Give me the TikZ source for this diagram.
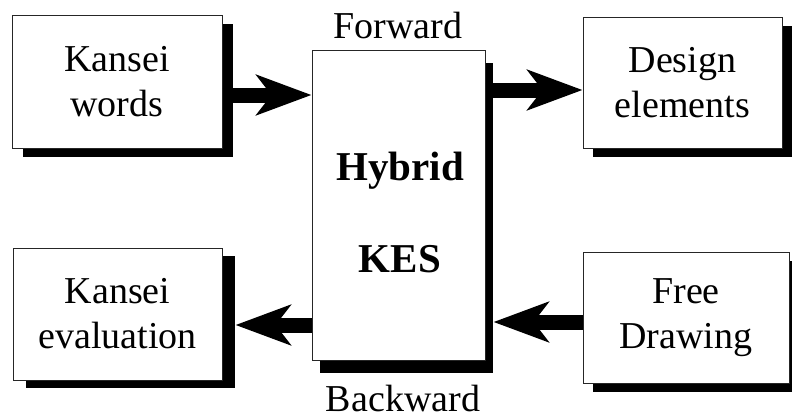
\documentclass[tikz,border=0pt]{standalone}
\usepackage{fontspec}
\setmainfont{Liberation Serif}
\usetikzlibrary{arrows.meta,shadows}
\begin{document}
\begin{tikzpicture}[x=1pt,y=-1pt,
  box/.style={draw=black!85, line width=1pt, fill=white, align=center,
    font=\fontsize{38}{45}\selectfont, inner sep=0pt},
  shad/.style={drop shadow={shadow xshift=#1, fill=black, opacity=1}},
  bigarrow/.style={line width=15pt, -{Stealth[length=55pt,width=40pt,inset=15pt]}},
  lbl/.style={font=\fontsize{38}{45}\selectfont, inner sep=0pt}]
\useasboundingbox (0,0) rectangle (792,418);
\node[box, minimum width=210pt, minimum height=133pt,
  drop shadow={shadow xshift=11pt, shadow yshift=-9pt, fill=black, opacity=1}]
  (kw) at (117,81.5) {Kansei\\words};
\node[box, minimum width=173pt, minimum height=310pt,
  drop shadow={shadow xshift=8pt, shadow yshift=-13pt, fill=black, opacity=1}]
  (hyb) at (398.5,205) {};
\node[font=\bfseries\fontsize{41}{92}\selectfont, align=center, inner sep=0pt]
  (hybtxt) at (400,212) {Hybrid\\KES};
\node[box, minimum width=199pt, minimum height=131pt,
  drop shadow={shadow xshift=10pt, shadow yshift=-9pt, fill=black, opacity=1}]
  (de) at (682.5,82.5) {Design\\elements};
\node[box, minimum width=209pt, minimum height=132pt,
  drop shadow={shadow xshift=13pt, shadow yshift=-8pt, fill=black, opacity=1}]
  (ke) at (117.5,314) {Kansei\\evaluation};
\node[box, minimum width=206pt, minimum height=131pt,
  drop shadow={shadow xshift=10pt, shadow yshift=-9pt, fill=black, opacity=1}]
  (fd) at (686,317.5) {Free\\Drawing};
\node[lbl] (fw) at (398,26) {Forward};
\node[lbl] (bw) at (403,398) {Backward};
% arrows
\coordinate (a1) at ([yshift=-13.5pt]kw.east);
\draw[bigarrow] (a1) -- (a1 -| hyb.west);
\coordinate (a2) at ([yshift=-7.5pt]de.west);
\draw[bigarrow] (a2 -| hyb.east) -- (a2);
\coordinate (a3) at ([xshift=13pt,yshift=-11pt]ke.east);
\draw[bigarrow] (a3 -| hyb.west) -- (a3);
\coordinate (a4) at ([yshift=-4.5pt]fd.west);
\coordinate (h4) at ([xshift=8pt]hyb.east);
\draw[bigarrow] (a4) -- (a4 -| h4);
\end{tikzpicture}
\end{document}
